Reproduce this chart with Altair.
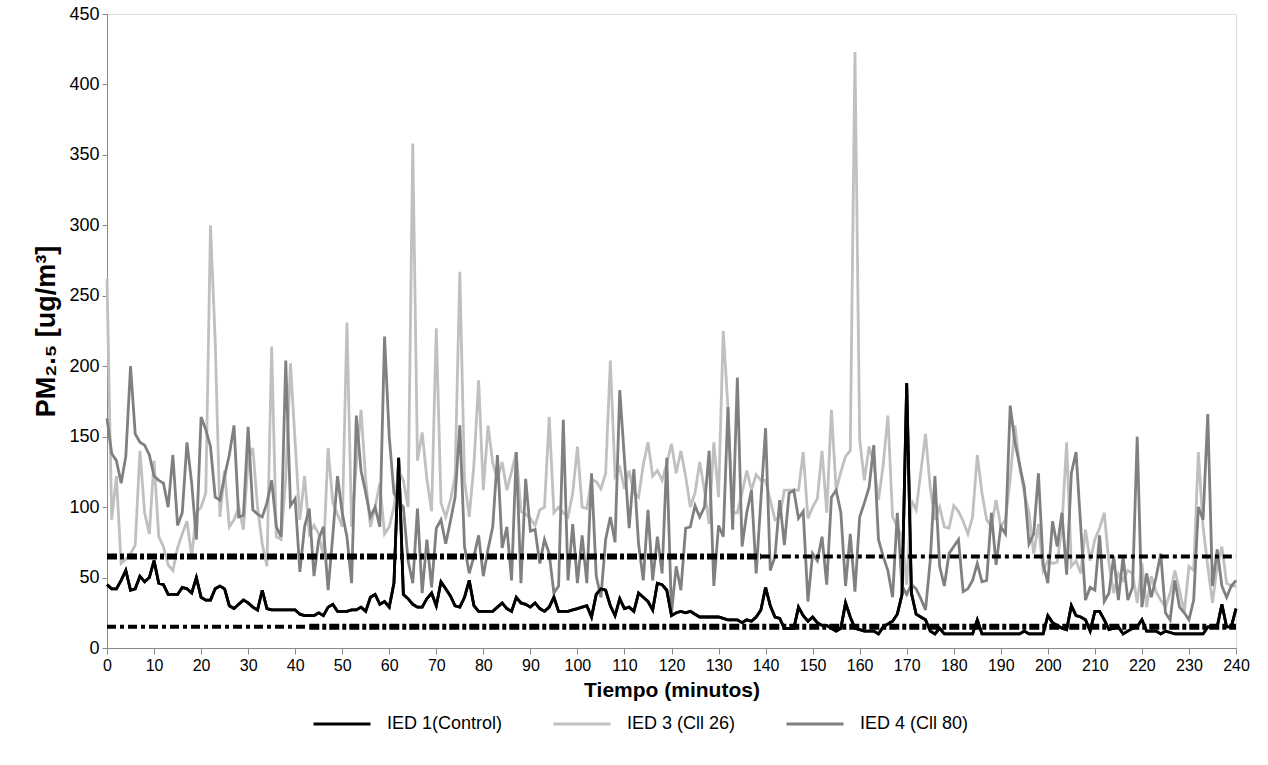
import altair as alt
import pandas as pd

minutes = list(range(0, 241))

ied1 = [45, 42, 42, 48, 55, 41, 42, 51, 47, 50,
        62, 46, 45, 38, 38, 38, 43, 42, 39, 50,
        36, 34, 34, 42, 44, 42, 30, 28, 31, 34,
        32, 29, 27, 41, 28, 27, 27, 27, 27, 27,
        27, 24, 23, 23, 23, 25, 23, 29, 31, 26,
        26, 26, 27, 27, 29, 26, 36, 38, 31, 33,
        29, 46, 135, 38, 35, 31, 29, 29, 35, 39,
        30, 47, 42, 37, 30, 29, 36, 48, 30, 26,
        26, 26, 26, 29, 32, 28, 26, 36, 32, 31,
        29, 32, 28, 26, 29, 36, 26, 26, 26, 27,
        28, 29, 30, 22, 38, 42, 41, 30, 23, 35,
        28, 29, 26, 39, 36, 33, 27, 46, 45, 41,
        23, 25, 26, 25, 26, 24, 22, 22, 22, 22,
        22, 21, 20, 20, 20, 18, 20, 19, 22, 27,
        43, 30, 22, 21, 14, 14, 14, 29, 23, 19,
        22, 18, 16, 16, 14, 12, 14, 32, 22, 14,
        13, 12, 12, 12, 10, 15, 17, 19, 24, 38,
        188, 39, 24, 22, 20, 12, 10, 14, 10, 10,
        10, 10, 10, 10, 10, 20, 10, 10, 10, 10,
        10, 10, 10, 10, 10, 12, 10, 10, 10, 10,
        23, 18, 16, 14, 13, 30, 23, 22, 20, 12,
        26, 26, 20, 13, 14, 15, 10, 12, 14, 15,
        20, 12, 12, 12, 10, 12, 11, 10, 10, 10,
        10, 10, 10, 10, 15, 15, 15, 31, 15, 15,
        28]

ied3 = [262, 91, 122, 60, 63, 67, 73, 140, 96, 81,
        133, 79, 72, 59, 55, 71, 81, 90, 65, 96,
        100, 110, 300, 218, 93, 126, 86, 91, 100, 84,
        133, 142, 100, 74, 58, 214, 79, 77, 120, 202,
        146, 91, 122, 81, 87, 81, 65, 142, 103, 95,
        86, 231, 86, 130, 169, 119, 86, 100, 117, 81,
        86, 100, 126, 119, 100, 358, 133, 153, 120, 97,
        227, 103, 93, 105, 122, 267, 119, 93, 130, 190,
        112, 158, 131, 120, 132, 112, 125, 139, 97, 95,
        92, 87, 98, 100, 164, 96, 100, 96, 93, 110,
        143, 100, 99, 120, 118, 113, 124, 204, 122, 128,
        113, 126, 110, 107, 130, 146, 122, 126, 119, 131,
        145, 124, 140, 122, 100, 110, 132, 112, 88, 146,
        107, 225, 171, 96, 96, 110, 126, 112, 123, 119,
        119, 105, 91, 93, 112, 112, 112, 112, 139, 92,
        100, 106, 140, 96, 169, 112, 125, 136, 140, 423,
        148, 119, 143, 131, 105, 130, 165, 93, 86, 79,
        45, 105, 98, 125, 152, 114, 91, 100, 86, 85,
        101, 97, 90, 81, 93, 137, 110, 91, 86, 105,
        86, 91, 120, 158, 129, 110, 96, 67, 88, 55,
        62, 60, 61, 87, 146, 58, 62, 53, 84, 62,
        77, 85, 96, 60, 39, 53, 48, 55, 53, 32,
        60, 29, 51, 40, 34, 29, 39, 55, 41, 25,
        58, 55, 139, 86, 58, 32, 58, 72, 46, 44,
        44]

ied4 = [163, 138, 133, 117, 136, 200, 152, 146, 144, 137,
        122, 119, 117, 100, 137, 87, 96, 146, 117, 77,
        164, 155, 143, 107, 105, 122, 137, 158, 93, 94,
        157, 98, 95, 93, 103, 119, 86, 79, 204, 101,
        106, 54, 86, 99, 51, 77, 86, 41, 80, 122,
        96, 79, 46, 165, 126, 110, 93, 100, 86, 221,
        150, 110, 104, 100, 62, 46, 99, 39, 77, 43,
        85, 91, 74, 90, 107, 158, 72, 53, 65, 80,
        51, 70, 86, 137, 71, 86, 48, 139, 46, 120,
        83, 84, 60, 77, 67, 39, 44, 162, 48, 88,
        46, 80, 46, 124, 51, 36, 77, 93, 75, 183,
        134, 85, 127, 74, 48, 98, 48, 79, 53, 135,
        25, 58, 41, 85, 86, 101, 93, 100, 140, 44,
        87, 79, 171, 84, 192, 72, 96, 112, 53, 105,
        156, 55, 65, 105, 73, 110, 112, 92, 97, 33,
        67, 62, 79, 45, 107, 112, 96, 44, 81, 40,
        93, 103, 114, 144, 77, 65, 55, 36, 96, 44,
        38, 45, 42, 35, 27, 62, 122, 58, 44, 67,
        72, 77, 40, 42, 48, 60, 47, 48, 96, 59,
        86, 81, 172, 146, 130, 114, 74, 81, 124, 60,
        46, 90, 72, 96, 52, 124, 139, 86, 34, 43,
        41, 80, 33, 39, 65, 34, 65, 34, 43, 150,
        29, 53, 36, 50, 67, 25, 20, 48, 29, 25,
        20, 34, 100, 91, 166, 44, 70, 44, 36, 44,
        48]

# reference levels (dash-dot lines) and the stretches where each is drawn heavier / lighter
std_level = [65, 15, 65, 15]
std_from = [0, 43, 139, 0]
std_to = [139, 240, 240, 43]
std_heavy = [True, True, False, False]

series_names = ["IED 1(Control)", "IED 3 (Cll 26)", "IED 4 (Cll 80)"]
series_colors = ["#000000", "#c0c0c0", "#808080"]
x_ticks = list(range(0, 241, 10))
y_ticks = list(range(0, 451, 50))

assert len(ied1) == len(ied3) == len(ied4) == len(minutes)

df = pd.DataFrame({
    "t": minutes * 3,
    "v": ied1 + ied3 + ied4,
    "s": [series_names[0]] * len(minutes) + [series_names[1]] * len(minutes) + [series_names[2]] * len(minutes),
})
std_df = pd.DataFrame({"v": std_level, "t": std_from, "t2": std_to, "heavy": std_heavy})

FONT = "Liberation Sans"

x_enc = alt.X("t:Q", scale=alt.Scale(domain=[0, 240], nice=False),
              axis=alt.Axis(values=x_ticks, title="Tiempo (minutos)", labelFontSize=16,
                            titleFontSize=21, titleFontWeight="bold", tickSize=6,
                            labelPadding=3, titlePadding=6, labelFlush=False, grid=False))
y_enc = alt.Y("v:Q", scale=alt.Scale(domain=[0, 450], nice=False),
              axis=alt.Axis(values=y_ticks, title="PM₂.₅ [ug/m³]", labelFontSize=18,
                            titleFontSize=27, titleFontWeight="bold", tickSize=5,
                            labelPadding=3, titlePadding=8, grid=False))

lines = alt.Chart(df).mark_line(strokeWidth=2.8).encode(
    x=x_enc,
    y=y_enc,
    color=alt.Color("s:N", scale=alt.Scale(domain=series_names, range=series_colors),
                    legend=alt.Legend(title=None, orient="none", direction="horizontal",
                                      legendX=205, legendY=680, symbolType="stroke",
                                      symbolSize=3249, symbolStrokeWidth=3,
                                      labelFontSize=18, labelFont=FONT, labelColor="black",
                                      labelOffset=15, columnPadding=44, padding=0)),
    detail="s:N",
)

black_top = alt.Chart(df[df["s"] == series_names[0]]).mark_line(
    strokeWidth=2.8, color="#000000").encode(x=x_enc, y=y_enc)

rules_heavy = alt.Chart(std_df[std_df["heavy"]]).mark_rule(
    color="black", strokeWidth=6, strokeDash=[10, 3, 4, 3]).encode(
    x=x_enc, x2="t2:Q", y=y_enc)

rules_light = alt.Chart(std_df[~std_df["heavy"]]).mark_rule(
    color="black", strokeWidth=4, strokeDash=[9, 4, 4, 4]).encode(
    x=x_enc, x2="t2:Q", y=y_enc)

chart = alt.layer(lines, black_top, rules_heavy, rules_light).properties(
    width=1129, height=634,
    padding={"left": 107, "top": 14, "right": 32, "bottom": 117},
    autosize=alt.AutoSizeParams(type="none"),
).configure_view(stroke="black", strokeWidth=2).configure_axis(
    domainColor="black", domainWidth=2, tickColor="black", tickWidth=2,
    labelColor="black", titleColor="black", grid=False,
    labelFont=FONT, titleFont=FONT,
).configure(background="white")

chart.save("out.html", embed_options={"renderer": "svg", "actions": False})
